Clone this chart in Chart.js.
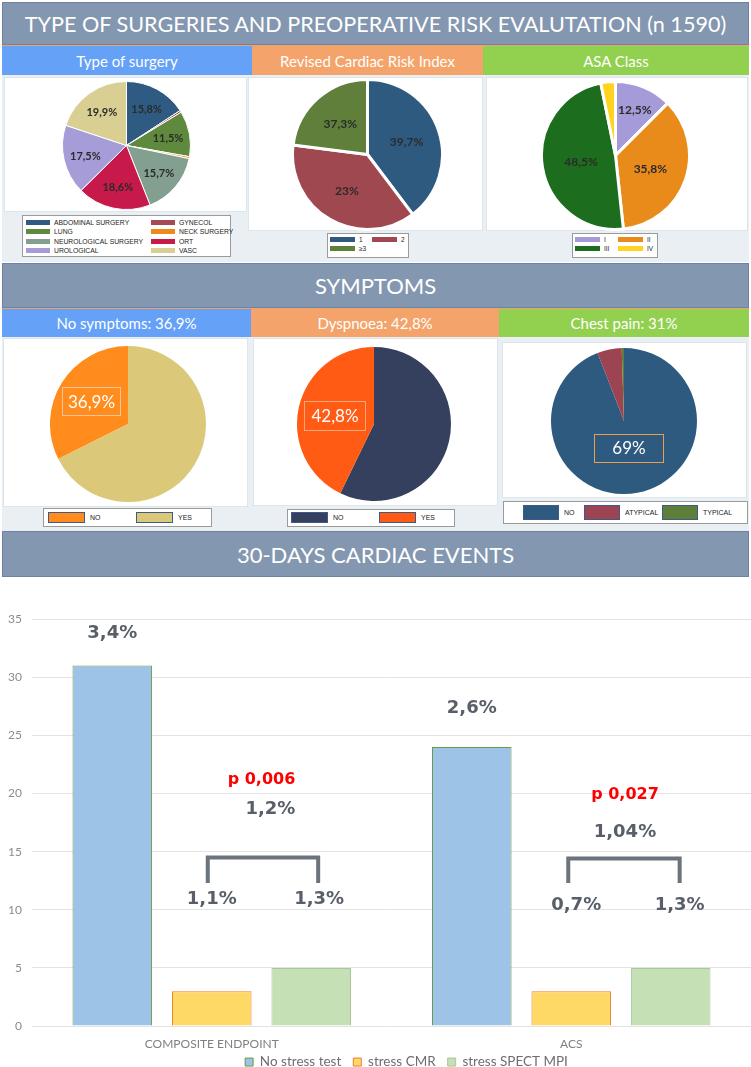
<!DOCTYPE html>
<html>
<head>
<meta charset="utf-8">
<script src="https://cdn.jsdelivr.net/npm/chart.js@4.4.1/dist/chart.umd.min.js"></script>
<style>
body{margin:0;width:751px;height:1067px;position:relative;overflow:hidden;background:#fff;font-family:Lato,sans-serif;}
.box{position:absolute;box-sizing:border-box;}
.hdr{background:#8497b0;border:1px solid #6f83a0;color:#fff;font-size:21.6px;display:flex;align-items:center;justify-content:center;}
.sub{color:#fff;font-size:15px;display:flex;align-items:center;justify-content:center;border-top:1px solid #eda46a;}
.row{background:#e9eff2;}
.panel{background:#fff;border:1px solid #dce5eb;}
.lg{background:#fff;border:1px solid #9a9a9a;font-family:'Liberation Sans',Arial,sans-serif;color:#222;}
.lg .it{position:absolute;display:flex;align-items:center;white-space:nowrap;}
.lg .sw{display:inline-block;box-sizing:border-box;}
canvas{position:absolute;}
</style>
</head>
<body>
<div class="box hdr" style="left:2px;top:2px;width:747px;height:43px;">TYPE OF SURGERIES AND PREOPERATIVE RISK EVALUTATION (n 1590)</div>
<div class="box sub" style="left:2px;top:45px;width:250px;height:30px;background:#64a1f7;">Type of surgery</div>
<div class="box sub" style="left:252px;top:45px;width:231px;height:30px;background:#f4a46b;">Revised Cardiac Risk Index</div>
<div class="box sub" style="left:483px;top:45px;width:266px;height:30px;background:#92d050;">ASA Class</div>
<div class="box row" style="left:2px;top:75px;width:747px;height:187px;"></div>
<div class="box panel" style="left:4px;top:77px;width:243px;height:135px;"></div>
<div class="box panel" style="left:248px;top:77px;width:235px;height:154px;"></div>
<div class="box panel" style="left:486px;top:77px;width:262px;height:154px;"></div>

<div class="box hdr" style="left:2px;top:263px;width:747px;height:45px;font-size:22px;">SYMPTOMS</div>
<div class="box sub" style="left:2px;top:308px;width:249px;height:29px;background:#64a1f7;">No symptoms: 36,9%</div>
<div class="box sub" style="left:251px;top:308px;width:248px;height:29px;background:#f4a46b;">Dyspnoea: 42,8%</div>
<div class="box sub" style="left:499px;top:308px;width:250px;height:29px;background:#92d050;">Chest pain: 31%</div>
<div class="box row" style="left:2px;top:337px;width:747px;height:194px;"></div>
<div class="box panel" style="left:3px;top:338px;width:245px;height:169px;"></div>
<div class="box panel" style="left:253px;top:338px;width:245px;height:168px;"></div>
<div class="box panel" style="left:502px;top:342px;width:245px;height:156px;"></div>

<div class="box hdr" style="left:2px;top:531px;width:747px;height:46px;font-size:22px;">30-DAYS CARDIAC EVENTS</div>

<script>
// ---- data ----
const surgeryLabels = ['ABDOMINAL SURGERY', 'GYNECOL', 'LUNG', 'NECK SURGERY', 'NEUROLOGICAL SURGERY', 'ORT', 'UROLOGICAL', 'VASC'];
const surgeryValues = [15.8, 0.5, 11.5, 0.5, 15.7, 18.6, 17.5, 19.9];
const surgeryText = ['15,8%', '', '11,5%', '', '15,7%', '18,6%', '17,5%', '19,9%'];

const rcriLabels = ['1', '2', '\u22653'];
const rcriValues = [39.7, 37.3, 23];
const rcriText = ['39,7%', '23%', '37,3%'];

const asaLabels = ['I', 'II', 'III', 'IV'];
const asaValues = [12.5, 35.8, 48.5, 3.2];
const asaText = ['12,5%', '35,8%', '48,5%', ''];

const noSympLabels = ['NO', 'YES'];
const noSympValues = [32.4, 67.6];
const noSympText = ['36,9%', ''];

const dyspLabels = ['NO', 'YES'];
const dyspValues = [57.2, 42.8];
const dyspText = ['', '42,8%'];

const chestLabels = ['NO', 'ATYPICAL', 'TYPICAL'];
const chestValues = [94.1, 5.4, 0.5];
const chestText = ['69%', '', ''];

const barCats = ['COMPOSITE ENDPOINT', 'ACS'];
const barSeries = ['No stress test', 'stress CMR', 'stress SPECT MPI'];
const noStress = [31, 24];
const stressCMR = [3, 3];
const stressSPECT = [5, 5];
const yMin = 0, yMax = 35, yStep = 5;

// notes over the bars: category, bar slot (0..2, fractional = between bars), y value
const barNotes = [
  {cat: 0, pos: 0, y: 33.8, text: '3,4%'},
  {cat: 0, pos: 1.5, y: 21.2, text: 'p 0,006', red: true},
  {cat: 0, pos: 1.59, y: 18.6, text: '1,2%'},
  {cat: 0, pos: 1.0, y: 10.9, text: '1,1%'},
  {cat: 0, pos: 2.08, y: 10.9, text: '1,3%'},
  {cat: 1, pos: 0, y: 27.3, text: '2,6%'},
  {cat: 1, pos: 1.54, y: 19.9, text: 'p 0,027', red: true},
  {cat: 1, pos: 1.54, y: 16.7, text: '1,04%'},
  {cat: 1, pos: 1.05, y: 10.4, text: '0,7%'},
  {cat: 1, pos: 2.09, y: 10.4, text: '1,3%'}
];
const brackets = [
  {cat: 0, from: 0.96, to: 2.07, top: 14.5, bottom: 12.3},
  {cat: 1, from: 0.97, to: 2.09, top: 14.4, bottom: 12.3}
];

// ---- colours ----
const surgeryColors = ['#2f5b83', '#a34a55', '#5f8a3d', '#ee8a1c', '#829f90', '#c8194b', '#a69cd8', '#d9cf93'];
const rcriColors = ['#2e5a80', '#a0484f', '#5f7f3b'];
const asaColors = ['#a59bd9', '#e88b1b', '#1c6e1e', '#ffd320'];
const noSympColors = ['#ff8c1c', '#dbc878'];
const dyspColors = ['#34405e', '#ff5b14'];
const chestColors = ['#2e5a80', '#9d4452', '#5d7f3a'];

Chart.defaults.font.family = 'Lato, sans-serif';

function pieText(o) {
  return {
    id: 'pieText',
    afterDatasetsDraw(chart) {
      const ctx = chart.ctx;
      chart.getDatasetMeta(0).data.forEach((arc, i) => {
        const t = o.texts[i];
        if (!t) return;
        const p = arc.getProps(['x', 'y', 'startAngle', 'endAngle', 'outerRadius']);
        const m = (p.startAngle + p.endAngle) / 2;
        const f = Array.isArray(o.frac) ? o.frac[i] : o.frac;
        const x = p.x + Math.cos(m) * p.outerRadius * f;
        const y = p.y + Math.sin(m) * p.outerRadius * f;
        ctx.save();
        ctx.font = o.font;
        ctx.fillStyle = o.color;
        ctx.textAlign = 'center';
        ctx.textBaseline = 'middle';
        if (o.box) {
          ctx.strokeStyle = o.box;
          ctx.lineWidth = 1;
          ctx.strokeRect(Math.round(x - o.bw / 2) + 0.5, Math.round(y - o.bh / 2) + 0.5, o.bw, o.bh);
        }
        ctx.fillText(t, x, y + 1);
        ctx.restore();
      });
    }
  };
}

function pie(cx, cy, r, bw, labels, values, colors, rotation, textOpts) {
  const c = document.createElement('canvas');
  const s = 2 * r + bw;
  c.width = s; c.height = s;
  c.style.left = (cx - s / 2) + 'px';
  c.style.top = (cy - s / 2) + 'px';
  document.body.appendChild(c);
  new Chart(c, {
    type: 'pie',
    data: {labels: labels, datasets: [{data: values, backgroundColor: colors, borderColor: '#fff', borderWidth: bw}]},
    options: {
      responsive: false, animation: false, rotation: rotation,
      layout: {padding: 0},
      plugins: {legend: {display: false}, tooltip: {enabled: false}}
    },
    plugins: [pieText(textOpts)]
  });
}

// html legend, items placed on a grid (xs = column offsets)
function legend(x, y, w, h, labels, colors, o) {
  const d = document.createElement('div');
  d.className = 'box lg';
  d.style.cssText = `left:${x}px;top:${y}px;width:${w}px;height:${h}px;font-size:${o.font}px;`;
  labels.forEach((l, i) => {
    const col = i % o.xs.length, row = Math.floor(i / o.xs.length);
    const it = document.createElement('div');
    it.className = 'it';
    it.style.left = o.xs[col] + 'px';
    it.style.top = (o.y0 + row * o.rowH) + 'px';
    it.style.height = o.sh + 'px';
    it.innerHTML = `<span class="sw" style="width:${o.sw}px;height:${o.sh}px;background:${colors[i]};${o.border ? 'border:1px solid ' + o.border : ''}"></span><span style="margin-left:${o.gap}px">${l}</span>`;
    d.appendChild(it);
  });
  document.body.appendChild(d);
}

const darkLbl = '#2b2b2b';
pie(126, 145.5, 64, 1, surgeryLabels, surgeryValues, surgeryColors, 0,
  {texts: surgeryText, frac: 0.66, font: 'bold 11px Lato', color: darkLbl});
pie(367, 154, 75, 3, rcriLabels, rcriValues, rcriColors, 0,
  {texts: rcriText, frac: 0.55, font: 'bold 12px Lato', color: darkLbl});
pie(615, 155, 74, 3, asaLabels, asaValues, asaColors, 0,
  {texts: asaText, frac: [0.68, 0.5, 0.47, 0], font: 'bold 12px Lato', color: darkLbl});

pie(127.5, 424, 78, 0, noSympLabels, noSympValues, noSympColors, -noSympValues[0] * 3.6,
  {texts: noSympText, frac: 0.55, font: '17px Lato', color: '#fff', box: '#f4c59a', bw: 58, bh: 28});
pie(374, 424, 77, 0, dyspLabels, dyspValues, dyspColors, 0,
  {texts: dyspText, frac: 0.52, font: '17px Lato', color: '#fff', box: '#f7a77a', bw: 61, bh: 29});
pie(624, 421, 73, 0, chestLabels, chestValues, chestColors, 0,
  {texts: chestText, frac: 0.37, font: '17px Lato', color: '#fff', box: '#e8a050', bw: 69, bh: 28});

legend(22, 215, 209, 42, surgeryLabels, surgeryColors, {xs: [3, 128], rowH: 9.3, y0: 4, sw: 24, sh: 5, gap: 4, font: 6.8});
legend(327, 233, 82, 25, rcriLabels, rcriColors, {xs: [2, 44], rowH: 9, y0: 3, sw: 25, sh: 5, gap: 4, font: 6.5});
legend(572, 233, 86, 25, asaLabels, asaColors, {xs: [2, 45], rowH: 9, y0: 3, sw: 25, sh: 5, gap: 4, font: 6.5});

legend(43, 508, 169, 19, noSympLabels, noSympColors, {xs: [4, 92], rowH: 9, y0: 3, sw: 37, sh: 11, gap: 5, font: 7, border: '#3c5a8a'});
legend(287, 509, 168, 18, dyspLabels, dyspColors, {xs: [3, 91], rowH: 9, y0: 2, sw: 37, sh: 11, gap: 5, font: 7, border: '#3c5a8a'});
legend(503, 501, 245, 23, chestLabels, chestColors, {xs: [19, 80, 158], rowH: 9, y0: 3, sw: 36, sh: 15, gap: 5, font: 7, border: '#3c5a8a'});

// ---- bar chart ----
const legendPad = 12;
const notesPlugin = {
  id: 'notes',
  afterLayout(chart) {
    // legend sits a little right of centre and close under the axis labels
    const L = chart.legend;
    L.left += 31;
    L.right += 31;
    const dy = (chart.chartArea.bottom + 37 - (legendPad + 7.8)) - L.top;
    L.top += dy;
    L.bottom += dy;
  },
  afterDatasetsDraw(chart) {
    const ctx = chart.ctx, ys = chart.scales.y;
    const xAt = (cat, pos) => {
      const a = chart.getDatasetMeta(0).data[cat].x;
      const b = chart.getDatasetMeta(1).data[cat].x;
      return a + pos * (b - a);
    };
    ctx.save();
    ctx.strokeStyle = '#6b737c';
    ctx.lineWidth = 4;
    brackets.forEach(b => {
      const x1 = xAt(b.cat, b.from), x2 = xAt(b.cat, b.to);
      const yt = ys.getPixelForValue(b.top), yb = ys.getPixelForValue(b.bottom);
      ctx.beginPath();
      ctx.moveTo(x1, yb); ctx.lineTo(x1, yt); ctx.lineTo(x2, yt); ctx.lineTo(x2, yb);
      ctx.stroke();
    });
    ctx.textAlign = 'center';
    ctx.textBaseline = 'middle';
    barNotes.forEach(n => {
      ctx.font = n.red ? 'bold 16px "DejaVu Sans"' : 'bold 18px "DejaVu Sans"';
      ctx.fillStyle = n.red ? '#ff0000' : '#595f68';
      ctx.fillText(n.text, xAt(n.cat, n.pos), ys.getPixelForValue(n.y));
    });
    ctx.restore();
  }
};

const bc = document.createElement('canvas');
bc.width = 751; bc.height = 518;
bc.style.left = '0px'; bc.style.top = '580px';
document.body.appendChild(bc);
new Chart(bc, {
  type: 'bar',
  data: {
    labels: barCats,
    datasets: [
      {label: barSeries[0], data: noStress, backgroundColor: '#9dc3e6', borderColor: '#6a9a48', borderWidth: 1},
      {label: barSeries[1], data: stressCMR, backgroundColor: '#ffd966', borderColor: '#ed7d31', borderWidth: 1},
      {label: barSeries[2], data: stressSPECT, backgroundColor: '#c5e0b4', borderColor: '#a9c79a', borderWidth: 1}
    ]
  },
  options: {
    responsive: false, animation: false,
    layout: {padding: {top: 39, right: 0, left: 0, bottom: 0}},
    datasets: {bar: {categoryPercentage: 0.83, barPercentage: 0.8}},
    scales: {
      x: {
        grid: {display: false, drawTicks: false}, border: {display: false},
        ticks: {color: '#808080', font: {size: 12}, padding: 11}
      },
      y: {
        min: yMin, max: yMax,
        ticks: {stepSize: yStep, color: '#8c8c8c', font: {size: 12}, padding: 10},
        grid: {color: '#e3e3e3', drawTicks: false},
        border: {display: false},
        afterFit(s) { s.width = 32; }
      }
    },
    plugins: {
      legend: {position: 'bottom', labels: {boxWidth: 8, boxHeight: 8, color: '#6e6e6e', font: {size: 13.5}, padding: legendPad}},
      tooltip: {enabled: false}
    }
  },
  plugins: [notesPlugin]
});
</script>
</body>
</html>
